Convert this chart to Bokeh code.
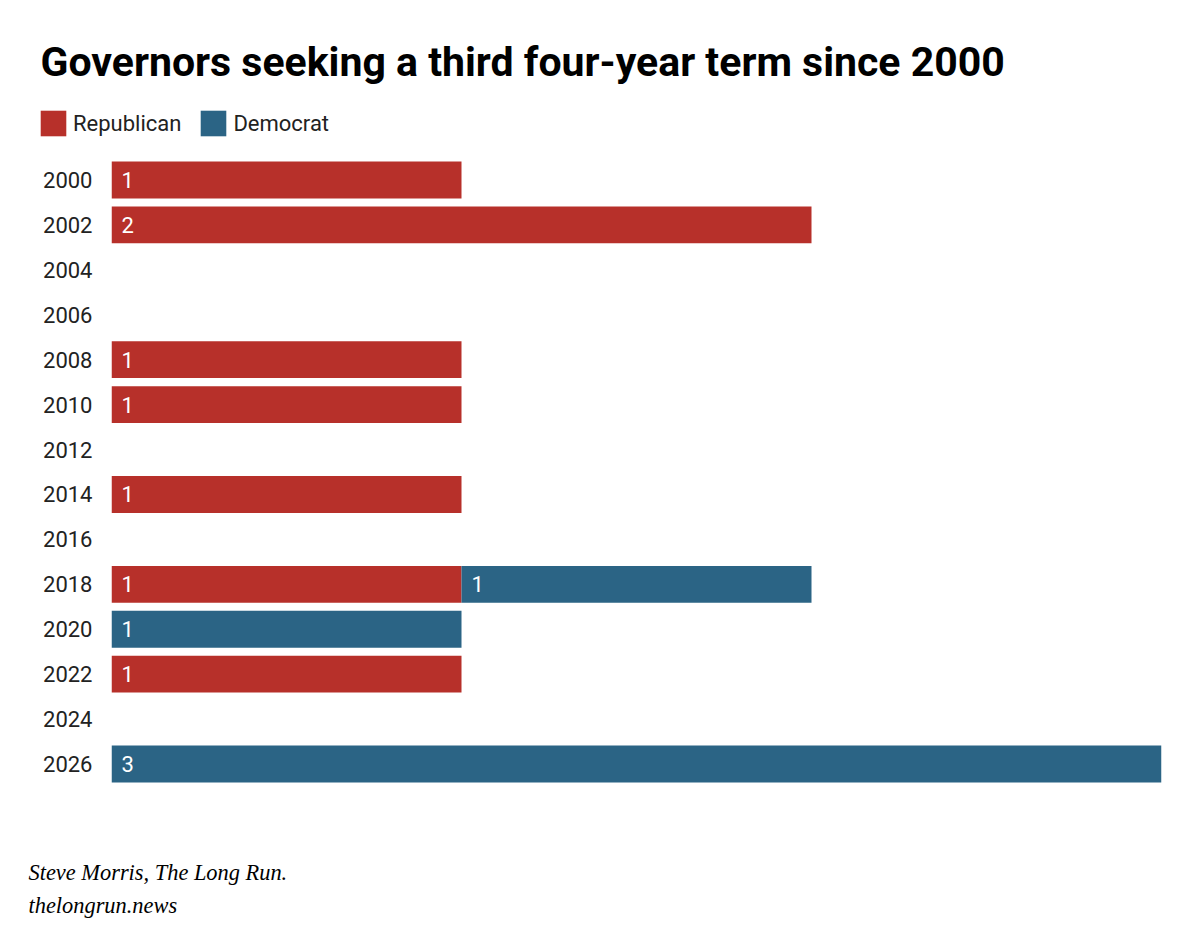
from bokeh.plotting import figure
from bokeh.models import ColumnDataSource, FactorRange, Range1d, Label, Legend, LegendItem
from bokeh.layouts import column
from bokeh.core.properties import value
from bokeh.embed import file_html
from bokeh.resources import INLINE

# ---- data ----
years = ["2000", "2002", "2004", "2006", "2008", "2010", "2012",
         "2014", "2016", "2018", "2020", "2022", "2024", "2026"]
republican = [1, 2, 0, 0, 1, 1, 0, 1, 0, 1, 0, 1, 0, 0]
democrat = [0, 0, 0, 0, 0, 0, 0, 0, 0, 1, 1, 0, 0, 3]
parties = ["Republican", "Democrat"]
colors = ["#b7302a", "#2b6485"]

title_text = "Governors seeking a third four-year term since 2000"
source_line1 = "Steve Morris, The Long Run."
source_line2 = "thelongrun.news"

W = 1190
HEAD_H, MAIN_H, FOOT_H = 157, 629, 139

src = ColumnDataSource(dict(year=years, Republican=republican, Democrat=democrat))


def blank(fig):
    fig.title.visible = False
    fig.outline_line_color = None
    fig.background_fill_color = "white"
    fig.border_fill_color = "white"
    fig.xgrid.grid_line_color = None
    fig.ygrid.grid_line_color = None
    return fig


# ---- header: title + legend (legend swatches come from zero-height copies of the
#      stacked bars, kept outside this strip's visible x range) ----
head = blank(figure(width=W, height=HEAD_H, x_range=Range1d(5, 6),
                    y_range=FactorRange(factors=list(reversed(years))),
                    output_backend="svg", toolbar_location=None,
                    min_border=0, x_axis_location=None, y_axis_location=None))
legend_renderers = head.hbar_stack(parties, y="year", height=0, color=colors,
                                   line_color=None, source=src)
legend = Legend(
    items=[LegendItem(label=parties[i], renderers=[legend_renderers[i]]) for i in range(2)],
    orientation="horizontal", location=(37, 18),
    glyph_width=32, glyph_height=32, label_standoff=4, spacing=16,
    padding=0, margin=0, border_line_color=None, background_fill_alpha=0,
    label_text_font="Roboto", label_text_font_size="22px", label_text_color="#222222",
)
head.add_layout(legend)
head.add_layout(Label(x=40, y=HEAD_H - 76 + 15, x_units="screen", y_units="screen",
                      text=title_text, text_font="Roboto", text_font_style="bold",
                      text_font_size="41px", text_color="black", text_baseline="alphabetic"))

# ---- main chart ----
p = blank(figure(
    width=W, height=MAIN_H,
    y_range=FactorRange(factors=list(reversed(years)), range_padding=0),
    x_range=Range1d(0, 3),
    output_backend="svg", toolbar_location=None,
    x_axis_location=None,
    min_border_left=111, min_border_right=29,
    min_border_top=0, min_border_bottom=0,
))
p.hbar_stack(parties, y="year", height=0.82, color=colors, line_color=None, source=src)

# value labels at the start of each non-empty segment
lab_y, lab_x, lab_t = [], [], []
for i, yr in enumerate(years):
    start = 0
    for vals in (republican, democrat):
        v = vals[i]
        if v > 0:
            lab_y.append(yr)
            lab_x.append(start)
            lab_t.append(str(v))
        start += v
p.text(x=lab_x, y=lab_y, text=lab_t, x_offset=10, text_baseline="middle",
       text_align="left", text_color="white", text_font=value("Roboto"),
       text_font_size="22px")

ax = p.yaxis[0]
ax.axis_line_color = None
ax.major_tick_line_color = None
ax.major_tick_out = 0
ax.major_tick_in = 0
ax.minor_tick_line_color = None
ax.major_label_standoff = 19
ax.major_label_text_font = "Roboto"
ax.major_label_text_font_size = "22px"
ax.major_label_text_color = "#222222"

# ---- footer: source ----
foot = blank(figure(width=W, height=FOOT_H, x_range=Range1d(0, 1), y_range=Range1d(0, 1),
                    output_backend="svg", toolbar_location=None,
                    min_border=0, x_axis_location=None, y_axis_location=None))
for txt, base in ((source_line1, 880), (source_line2, 913)):
    foot.add_layout(Label(x=28, y=HEAD_H + MAIN_H + FOOT_H - base + 8,
                          x_units="screen", y_units="screen", text=txt,
                          text_font="Liberation Serif", text_font_style="italic",
                          text_font_size="22.4px", text_color="black",
                          text_baseline="alphabetic"))

layout = column(column(head, width=W, height=HEAD_H), p,
                column(foot, width=W, height=FOOT_H), spacing=0)
open("out.html", "w").write(file_html(layout, INLINE))
